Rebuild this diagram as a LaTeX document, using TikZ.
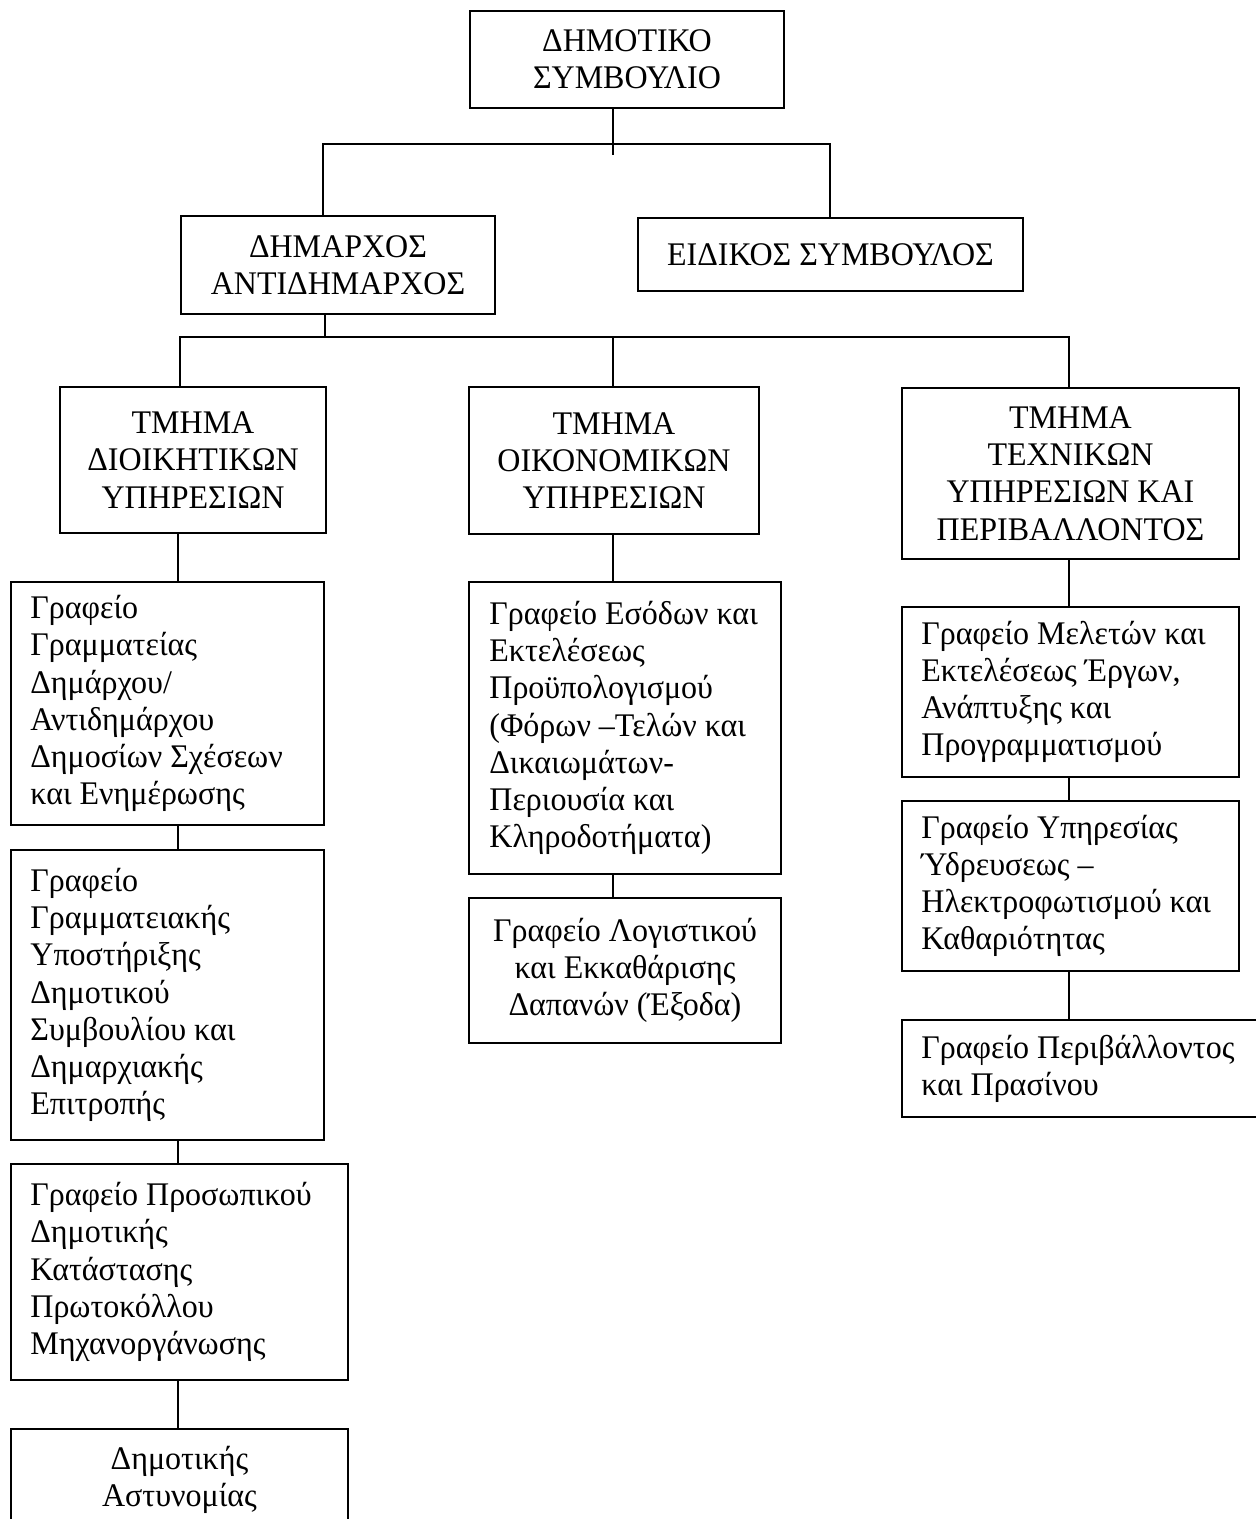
\documentclass[tikz,border=0pt]{standalone}
\usepackage{fontspec}
\setmainfont{Liberation Serif}[FakeStretch=0.97]
\begin{document}
\begin{tikzpicture}[x=0.5pt,y=-0.5pt,
  txt/.style={inner sep=0pt, font=\fontsize{16.5}{18.6}\selectfont},
  frame/.style={draw, line width=1pt, anchor=north west, inner sep=0pt},
  cbox/.style={frame, txt, align=center},
  ltext/.style={txt, align=left, anchor=west},
  wh/.style 2 args={minimum width=#1, minimum height=#2},
  link/.style={line width=1pt}
]
\useasboundingbox (0,0) rectangle (1256,1519);
\clip (0,0) rectangle (1256,1519);

% top levels
\node[cbox, wh={157pt}{48.5pt}] (top) at (469,10) {ΔΗΜΟΤΙΚΟ\\ΣΥΜΒΟΥΛΙΟ};
\node[cbox, wh={157pt}{49pt}] (dim) at (180,215) {ΔΗΜΑΡΧΟΣ\\ΑΝΤΙΔΗΜΑΡΧΟΣ};
\node[cbox, wh={192.5pt}{36.5pt}] (eid) at (637,217) {ΕΙΔΙΚΟΣ ΣΥΜΒΟΥΛΟΣ};

% departments
\node[cbox, wh={133pt}{73pt}] (t1) at (59,386) {ΤΜΗΜΑ\\ΔΙΟΙΚΗΤΙΚΩΝ\\ΥΠΗΡΕΣΙΩΝ};
\node[cbox, wh={145pt}{73.5pt}] (t2) at (468,386) {ΤΜΗΜΑ\\ΟΙΚΟΝΟΜΙΚΩΝ\\ΥΠΗΡΕΣΙΩΝ};
\node[cbox, wh={168.5pt}{85.5pt}] (t3) at (901,387) {ΤΜΗΜΑ\\ΤΕΧΝΙΚΩΝ\\ΥΠΗΡΕΣΙΩΝ ΚΑΙ\\ΠΕΡΙΒΑΛΛΟΝΤΟΣ};

% offices, administrative department
\node[frame, wh={156.5pt}{121.5pt}] (l1) at (10,581) {};
\node[ltext] (l1t) at ([xshift=10pt]l1.west)
  {Γραφείο\\Γραμματείας\\Δημάρχου/\\Αντιδημάρχου\\Δημοσίων Σχέσεων\\και Ενημέρωσης};
\node[frame, wh={156.5pt}{145pt}] (l2) at (10,849) {};
\node[ltext] (l2t) at ([xshift=10pt]l2.west)
  {Γραφείο\\Γραμματειακής\\Υποστήριξης\\Δημοτικού\\Συμβουλίου και\\Δημαρχιακής\\Επιτροπής};
\node[frame, wh={168.5pt}{108pt}] (l3) at (10,1163) {};
\node[ltext] (l3t) at ([xshift=10pt]l3.west)
  {Γραφείο Προσωπικού\\Δημοτικής\\Κατάστασης\\Πρωτοκόλλου\\Μηχανοργάνωσης};
\node[cbox, wh={168.5pt}{50.5pt}] (l4) at (10,1428) {Δημοτικής\\Αστυνομίας};

% offices, financial department
\node[frame, wh={156pt}{146pt}] (m1) at (468,581) {};
\node[ltext] (m1t) at ([xshift=10.5pt]m1.west)
  {Γραφείο Εσόδων και\\Εκτελέσεως\\Προϋπολογισμού\\(Φόρων –Τελών και\\Δικαιωμάτων-\\Περιουσία και\\Κληροδοτήματα)};
\node[cbox, wh={156pt}{72.5pt}] (m2) at (468,897)
  {Γραφείο Λογιστικού\\και Εκκαθάρισης\\Δαπανών (Έξοδα)};

% offices, technical department
\node[frame, wh={168.5pt}{85pt}] (r1) at (901,606) {};
\node[ltext] (r1t) at ([xshift=10pt]r1.west)
  {Γραφείο Μελετών και\\Εκτελέσεως Έργων,\\Ανάπτυξης και\\Προγραμματισμού};
\node[frame, wh={168.5pt}{85pt}] (r2) at (901,800) {};
\node[ltext] (r2t) at ([xshift=10pt]r2.west)
  {Γραφείο Υπηρεσίας\\Ύδρευσεως –\\Ηλεκτροφωτισμού και\\Καθαριότητας};
\node[frame, wh={182.5pt}{48.5pt}] (r3) at (901,1019) {};
\node[ltext] (r3t) at ([xshift=10pt]r3.west)
  {Γραφείο Περιβάλλοντος\\και Πρασίνου};

% junction points
\coordinate (j1) at (613,144);
\coordinate (j1s) at (613,155);
\coordinate (j1l) at (323,144);
\coordinate (j1r) at (830,144);
\coordinate (j2) at (325,337);
\coordinate (j2l) at (180,337);
\coordinate (j2m) at (613,337);
\coordinate (j2r) at (1069,337);
\coordinate (cl) at (178,0);
\coordinate (cm) at (613,0);
\coordinate (cr) at (1069,0);

% connectors
\draw[link] (top.south -| j1) -- (j1s);
\draw[link] (j1l |- dim.north) -- (j1l) -- (j1r) -- (j1r |- eid.north);
\draw[link] (dim.south -| j2) -- (j2);
\draw[link] (j2l |- t1.north) -- (j2l) -- (j2r) -- (j2r |- t3.north);
\draw[link] (j2m) -- (j2m |- t2.north);

\draw[link] (t1.south -| cl) -- (l1.north -| cl);
\draw[link] (l1.south -| cl) -- (l2.north -| cl);
\draw[link] (l2.south -| cl) -- (l3.north -| cl);
\draw[link] (l3.south -| cl) -- (l4.north -| cl);

\draw[link] (t2.south -| cm) -- (m1.north -| cm);
\draw[link] (m1.south -| cm) -- (m2.north -| cm);

\draw[link] (t3.south -| cr) -- (r1.north -| cr);
\draw[link] (r1.south -| cr) -- (r2.north -| cr);
\draw[link] (r2.south -| cr) -- (r3.north -| cr);
\end{tikzpicture}
\end{document}
